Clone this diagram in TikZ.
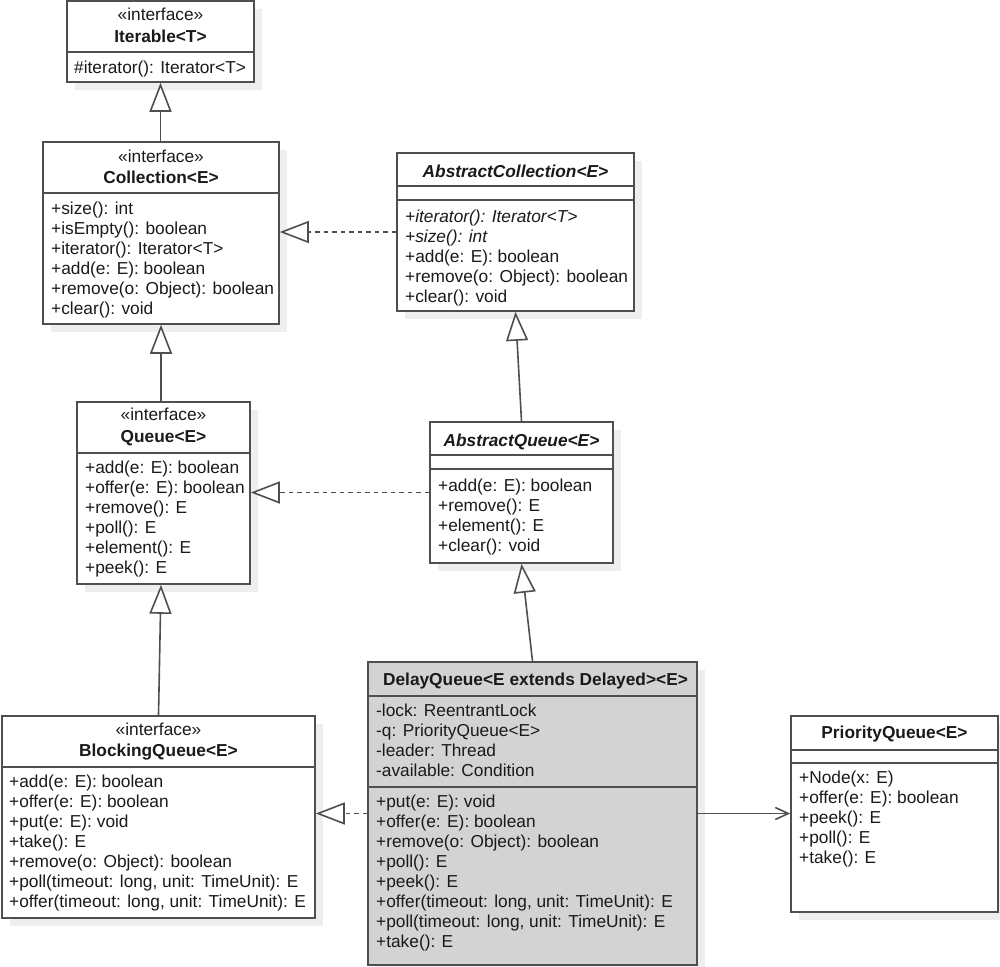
\documentclass[tikz,border=0pt]{standalone}
\usepackage{fontspec}
\setmainfont{Liberation Sans}
\usetikzlibrary{arrows.meta}
\definecolor{lc}{HTML}{4F4F4F}
\definecolor{tc}{HTML}{1A1A1A}
\definecolor{dqfill}{HTML}{D3D3D3}
\definecolor{shadowc}{HTML}{EEEEEE}
\tikzset{
  umlbox/.style={draw=lc, line width=1.6pt, fill=white, inner sep=0pt},
  txt/.style={anchor=base west, inner sep=0pt, text=tc, font=\fontsize{17.3}{20}\selectfont},
  hdr/.style={anchor=base, inner sep=0pt, text=tc, font=\fontsize{17.3}{20}\selectfont},
  divline/.style={draw=lc, line width=1.6pt},
  inherit/.style={draw=lc, line width=1.6pt, -{Triangle[open, length=29pt, width=22pt, fill=white]}},
  realize/.style={inherit, dash pattern=on 4.5pt off 4pt},
  assoc/.style={draw=lc, line width=1.6pt, -{Straight Barb[length=13pt, width=12pt]}},
}
\newcommand\umlmembers[4]{%
  \foreach \t [count=\i] in {#4}
    \node[txt] (#1-\i) at (#2, #3+20.1*\i-20.1) {\t};%
}
\begin{document}
\begin{tikzpicture}[x=1pt, y=-1pt]
\useasboundingbox (0,0) rectangle (1000,966);
% shadows
\foreach \xa/\ya/\xb/\yb in {67/1/254/82, 43/142/279/324, 397/153/634/311, 77/402/250/584, 430/422/613/563, 2/716/315/918, 368/662/697/965, 791/716/998/912}
  \fill[shadowc] (\xa+8,\ya+8) rectangle (\xb+8,\yb+8);
% boxes
\node[umlbox, minimum width=187pt, minimum height=81pt] (iter) at (160.5,41.5) {};
\node[umlbox, minimum width=236pt, minimum height=182pt] (coll) at (161,233) {};
\node[umlbox, minimum width=237pt, minimum height=158pt] (ac) at (515.5,232) {};
\node[umlbox, minimum width=173pt, minimum height=182pt] (queue) at (163.5,493) {};
\node[umlbox, minimum width=183pt, minimum height=141pt] (aq) at (521.5,492.5) {};
\node[umlbox, minimum width=313pt, minimum height=202pt] (bq) at (158.5,817) {};
\node[umlbox, fill=dqfill, minimum width=329pt, minimum height=303pt] (dq) at (532.5,813.5) {};
\node[umlbox, minimum width=207pt, minimum height=196pt] (pq) at (894.5,814) {};
% dividers
\draw[divline] (iter.west |- 0,52) -- (iter.east |- 0,52);
\draw[divline] (coll.west |- 0,193) -- (coll.east |- 0,193);
\draw[divline] (ac.west |- 0,186) -- (ac.east |- 0,186);
\draw[divline] (ac.west |- 0,200) -- (ac.east |- 0,200);
\draw[divline] (queue.west |- 0,453) -- (queue.east |- 0,453);
\draw[divline] (aq.west |- 0,455) -- (aq.east |- 0,455);
\draw[divline] (aq.west |- 0,469) -- (aq.east |- 0,469);
\draw[divline] (bq.west |- 0,767) -- (bq.east |- 0,767);
\draw[divline] (dq.west |- 0,696) -- (dq.east |- 0,696);
\draw[divline] (dq.west |- 0,787) -- (dq.east |- 0,787);
\draw[divline] (pq.west |- 0,750) -- (pq.east |- 0,750);
\draw[divline] (pq.west |- 0,763) -- (pq.east |- 0,763);
% headers
\node[hdr] (iter-st) at (iter.center |- 0,21) {«interface»};
\node[hdr, font=\fontsize{17.3}{20}\selectfont\bfseries] (iter-nm) at (iter.center |- 0,42) {Iterable<T>};
\node[hdr] (coll-st) at (coll.center |- 0,162) {«interface»};
\node[hdr, font=\fontsize{17.3}{20}\selectfont\bfseries] (coll-nm) at (coll.center |- 0,183) {Collection<E>};
\node[hdr, font=\fontsize{17.3}{20}\selectfont\bfseries\itshape] (ac-nm) at (ac.center |- 0,177) {AbstractCollection<E>};
\node[hdr] (queue-st) at (queue.center |- 0,420) {«interface»};
\node[hdr, font=\fontsize{17.3}{20}\selectfont\bfseries] (queue-nm) at (queue.center |- 0,442) {Queue<E>};
\node[hdr, font=\fontsize{17.3}{20}\selectfont\bfseries\itshape] (aq-nm) at (aq.center |- 0,446) {AbstractQueue<E>};
\node[hdr] (bq-st) at (bq.center |- 0,735) {«interface»};
\node[hdr, font=\fontsize{17.3}{20}\selectfont\bfseries] (bq-nm) at (bq.center |- 0,756) {BlockingQueue<E>};
\node[hdr, font=\fontsize{17.3}{20}\selectfont\bfseries] (dq-nm) at ([xshift=3pt]dq.center |- 0,685) {DelayQueue<E extends Delayed><E>};
\node[hdr, font=\fontsize{17.3}{20}\selectfont\bfseries] (pq-nm) at (pq.center |- 0,738) {PriorityQueue<E>};
% members
\umlmembers{iterm}{74}{73}{{\#iterator(): Iterator<T>}}
\umlmembers{collm}{51}{214}{{+size(): int},{+isEmpty(): boolean},{+iterator(): Iterator<T>},{+add(e: E): boolean},{+remove(o: Object): boolean},{+clear(): void}}
\umlmembers{acm}{405}{222}{{\itshape +iterator(): Iterator<T>},{\itshape +size(): int},{+add(e: E): boolean},{+remove(o: Object): boolean},{+clear(): void}}
\umlmembers{queuem}{85}{473}{{+add(e: E): boolean},{+offer(e: E): boolean},{+remove(): E},{+poll(): E},{+element(): E},{+peek(): E}}
\umlmembers{aqm}{438}{491}{{+add(e: E): boolean},{+remove(): E},{+element(): E},{+clear(): void}}
\umlmembers{bqm}{9}{787}{{+add(e: E): boolean},{+offer(e: E): boolean},{+put(e: E): void},{+take(): E},{+remove(o: Object): boolean},{+poll(timeout: long, unit: TimeUnit): E},{+offer(timeout: long, unit: TimeUnit): E}}
\umlmembers{dqa}{376}{716}{{-lock: ReentrantLock},{-q: PriorityQueue<E>},{-leader: Thread},{-available: Condition}}
\umlmembers{dqm}{376}{807}{{+put(e: E): void},{+offer(e: E): boolean},{+remove(o: Object): boolean},{+poll(): E},{+peek(): E},{+offer(timeout: long, unit: TimeUnit): E},{+poll(timeout: long, unit: TimeUnit): E},{+take(): E}}
\umlmembers{pqm}{799}{783}{{+Node(x: E)},{+offer(e: E): boolean},{+peek(): E},{+poll(): E},{+take(): E}}
% connectors
\draw[inherit] (iter.south |- coll.north) -- (iter.south);
\draw[inherit] (coll.south |- queue.north) -- (coll.south);
\draw[inherit] (bq.north) -- (queue.south -| coll.south);
\draw[inherit] (aq.north) -- (ac.south);
\draw[inherit] (dq.north) -- (aq.south);
\draw[realize] (ac.west) -- (ac.west -| coll.east);
\draw[realize] (aq.west) -- (aq.west -| queue.east);
\draw[realize] (dq.west) -- (dq.west -| bq.east);
\draw[assoc] (dq.east) -- (dq.east -| pq.west);
\end{tikzpicture}
\end{document}
